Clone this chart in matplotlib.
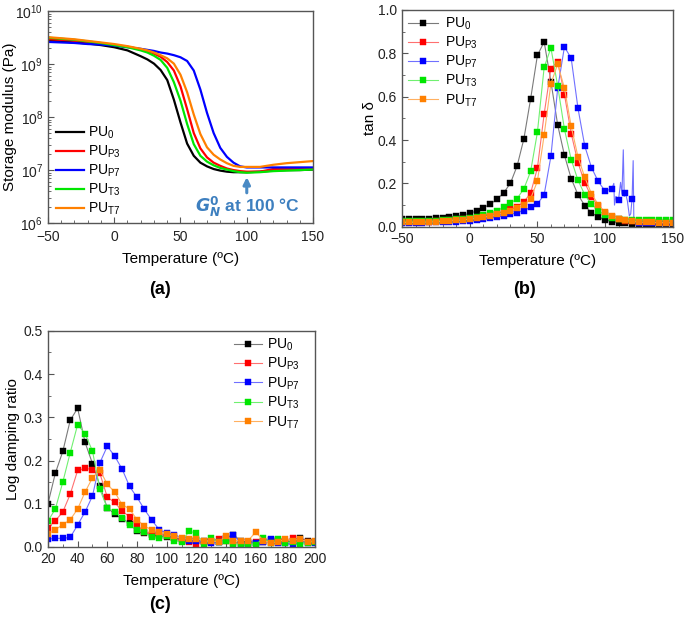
import numpy as np
import matplotlib
matplotlib.use('Agg')
import matplotlib.pyplot as plt
from matplotlib.ticker import MultipleLocator, FormatStrFormatter
from matplotlib.lines import Line2D

plt.rcParams['font.family'] = ['Liberation Sans', 'DejaVu Sans']
plt.rcParams['mathtext.default'] = 'regular'

names = ['PU$_0$', 'PU$_{P3}$', 'PU$_{P7}$', 'PU$_{T3}$', 'PU$_{T7}$']
colors = ['#000000', '#ff0000', '#0000ff', '#00e600', '#ff8000']
light = ['#7a7a7a', '#ff7070', '#7070ff', '#70f070', '#ffb060']

# (a) storage modulus, log10(Pa)
T_a = [-50, -40, -30, -20, -10, 0, 10, 20, 25, 30, 35, 40, 45, 50, 55, 60, 65, 70,
       75, 80, 85, 90, 95, 100, 110, 120, 130, 140, 150]
logE_PU0 = [9.44, 9.43, 9.41, 9.39, 9.36, 9.32, 9.26, 9.15, 9.09, 9.01, 8.89, 8.70, 8.33,
            7.90, 7.50, 7.27, 7.14, 7.07, 7.02, 6.99, 6.97, 6.96, 6.96, 6.96, 6.97, 6.99,
            7.00, 7.00, 7.01]
logE_P3 = [9.47, 9.46, 9.44, 9.42, 9.39, 9.36, 9.33, 9.28, 9.25, 9.20, 9.14, 9.04, 8.88,
           8.58, 8.15, 7.70, 7.41, 7.24, 7.14, 7.08, 7.03, 7.00, 6.98, 6.97, 6.97, 7.02,
           7.02, 7.02, 7.02]
logE_P7 = [9.42, 9.41, 9.40, 9.38, 9.37, 9.35, 9.32, 9.29, 9.27, 9.25, 9.22, 9.20, 9.17,
           9.13, 9.06, 8.88, 8.52, 8.08, 7.70, 7.42, 7.25, 7.14, 7.07, 7.05, 7.05, 7.05,
           7.05, 7.05, 7.05]
logE_T3 = [9.50, 9.48, 9.46, 9.43, 9.40, 9.36, 9.32, 9.26, 9.22, 9.16, 9.08, 8.93, 8.66,
           8.31, 7.87, 7.49, 7.27, 7.16, 7.09, 7.04, 7.01, 6.98, 6.96, 6.95, 6.96, 6.98,
           6.99, 7.00, 7.01]
logE_T7 = [9.51, 9.49, 9.47, 9.44, 9.41, 9.38, 9.34, 9.29, 9.26, 9.22, 9.17, 9.11, 9.01,
           8.80, 8.47, 8.05, 7.68, 7.43, 7.29, 7.20, 7.13, 7.08, 7.06, 7.06, 7.06, 7.10,
           7.13, 7.15, 7.17]

# (b) tan delta
T_b = list(range(-50, 151, 5))
tan_PU0 = [0.035, 0.035, 0.035, 0.036, 0.037, 0.039, 0.041, 0.044, 0.048, 0.054, 0.062,
           0.073, 0.087, 0.104, 0.126, 0.156, 0.200, 0.280, 0.405, 0.590, 0.790, 0.853,
           0.670, 0.470, 0.330, 0.222, 0.148, 0.098, 0.065, 0.045, 0.032, 0.024, 0.019,
           0.016, 0.014, 0.012, 0.011, 0.011, 0.010, 0.010, 0.010]
tan_P3 = [0.022, 0.022, 0.022, 0.023, 0.024, 0.025, 0.027, 0.029, 0.031, 0.034, 0.037,
          0.041, 0.046, 0.052, 0.060, 0.070, 0.080, 0.092, 0.115, 0.155, 0.270, 0.520,
          0.730, 0.762, 0.610, 0.430, 0.296, 0.203, 0.138, 0.095, 0.065, 0.045, 0.034,
          0.028, 0.025, 0.023, 0.022, 0.021, 0.021, 0.020, 0.020]
tan_P7 = [0.018, 0.018, 0.019, 0.019, 0.020, 0.021, 0.022, 0.023, 0.024, 0.026, 0.028,
          0.031, 0.035, 0.040, 0.045, 0.050, 0.057, 0.065, 0.075, 0.090, 0.105, 0.148,
          0.325, 0.638, 0.830, 0.777, 0.547, 0.373, 0.273, 0.209, 0.165, 0.175, 0.125,
          0.158, 0.130, 0.018, 0.018, 0.018, 0.018, 0.018, 0.018]
tan_T3 = [0.025, 0.025, 0.025, 0.026, 0.027, 0.028, 0.030, 0.032, 0.035, 0.038, 0.042,
          0.047, 0.054, 0.062, 0.074, 0.090, 0.108, 0.130, 0.175, 0.255, 0.435, 0.735,
          0.825, 0.650, 0.450, 0.310, 0.215, 0.148, 0.105, 0.075, 0.055, 0.042, 0.036,
          0.033, 0.031, 0.030, 0.030, 0.030, 0.030, 0.030, 0.029]
tan_T7 = [0.020, 0.020, 0.021, 0.021, 0.022, 0.023, 0.025, 0.027, 0.029, 0.032, 0.035,
          0.039, 0.044, 0.050, 0.057, 0.065, 0.075, 0.085, 0.100, 0.130, 0.210, 0.423,
          0.660, 0.750, 0.640, 0.463, 0.323, 0.228, 0.153, 0.102, 0.068, 0.048, 0.036,
          0.029, 0.025, 0.022, 0.020, 0.020, 0.019, 0.019, 0.018]
# noisy part of the PU_P7 trace between the markers
T_P7_spikes = [106.5, 107.0, 108.0, 110.0, 111.5, 112.5, 113.5, 114.2, 115.0, 116.5,
               118.0, 119.0, 120.0, 120.8, 121.3, 122.0]
tan_P7_spikes = [0.200, 0.100, 0.140, 0.125, 0.205, 0.150, 0.355, 0.140, 0.158, 0.120,
                 0.050, 0.060, 0.130, 0.305, 0.030, 0.020]

# (c) log damping ratio
T_c = list(range(20, 201, 5))
ldr_PU0 = [0.100, 0.171, 0.221, 0.293, 0.321, 0.242, 0.193, 0.142, 0.090, 0.077, 0.065,
           0.055, 0.036, 0.032, 0.028, 0.025, 0.022, 0.020, 0.018, 0.016, 0.015, 0.015,
           0.013, 0.012, 0.020, 0.028, 0.014, 0.012, 0.010, 0.012, 0.016, 0.014, 0.012,
           0.013, 0.020, 0.013, 0.012]
ldr_P3 = [0.045, 0.061, 0.081, 0.122, 0.177, 0.182, 0.179, 0.170, 0.115, 0.103, 0.083,
          0.070, 0.050, 0.035, 0.030, 0.030, 0.025, 0.020, 0.015, 0.012, 0.008, 0.012,
          0.012, 0.018, 0.015, 0.010, 0.010, 0.008, 0.012, 0.015, 0.012, 0.013, 0.014,
          0.020, 0.015, 0.012, 0.012]
ldr_P7 = [0.018, 0.020, 0.020, 0.022, 0.051, 0.081, 0.118, 0.195, 0.233, 0.210, 0.180,
          0.140, 0.115, 0.087, 0.062, 0.040, 0.032, 0.028, 0.018, 0.015, 0.014, 0.012,
          0.010, 0.012, 0.018, 0.028, 0.008, 0.010, 0.010, 0.012, 0.018, 0.010, 0.010,
          0.004, 0.012, 0.010, 0.010]
ldr_T3 = [0.060, 0.088, 0.150, 0.218, 0.283, 0.262, 0.222, 0.133, 0.090, 0.082, 0.067,
          0.050, 0.040, 0.034, 0.022, 0.020, 0.025, 0.015, 0.012, 0.036, 0.033, 0.005,
          0.020, 0.012, 0.015, 0.008, 0.006, 0.008, 0.005, 0.020, 0.010, 0.018, 0.010,
          0.012, 0.008, 0.010, 0.012]
ldr_T7 = [0.030, 0.040, 0.052, 0.063, 0.088, 0.127, 0.160, 0.178, 0.145, 0.127, 0.098,
          0.088, 0.063, 0.048, 0.040, 0.035, 0.030, 0.025, 0.020, 0.018, 0.018, 0.015,
          0.014, 0.012, 0.025, 0.015, 0.015, 0.015, 0.035, 0.015, 0.010, 0.012, 0.018,
          0.015, 0.018, 0.012, 0.015]

MS = 4.8

fig = plt.figure(figsize=(6.85, 6.23), dpi=100)
ax_a = fig.add_axes([0.070, 0.642, 0.387, 0.340])
ax_b = fig.add_axes([0.587, 0.636, 0.395, 0.348])
ax_c = fig.add_axes([0.070, 0.122, 0.390, 0.347])


def style(ax):
    for s in ax.spines.values():
        s.set_color('#555555')
        s.set_linewidth(1.0)
    ax.tick_params(which='both', direction='in', labelsize=10, colors='#555555',
                   labelcolor='#222222', top=False, right=False)
    ax.tick_params(which='major', length=4)
    ax.tick_params(which='minor', length=2)
    ax.xaxis.labelpad = 6


# ---- (a)
for v, c, n in zip([logE_PU0, logE_P3, logE_P7, logE_T3, logE_T7], colors, names):
    ax_a.plot(T_a, 10 ** np.array(v), color=c, lw=1.6, label=n)
ax_a.set_yscale('log')
ax_a.set_xlim(-50, 150)
ax_a.set_ylim(1e6, 1e10)
ax_a.xaxis.set_major_locator(MultipleLocator(50))
ax_a.xaxis.set_minor_locator(MultipleLocator(10))
ax_a.set_xlabel('Temperature (ºC)', fontsize=11)
ax_a.set_ylabel('Storage modulus (Pa)', fontsize=11)
style(ax_a)
ax_a.tick_params(axis='x', pad=5)
ax_a.yaxis.set_label_coords(-0.118, 0.5)
ax_a.legend(loc='lower left', frameon=False, fontsize=10, handlelength=2.0,
            handletextpad=0.3, labelspacing=0.2, borderaxespad=0.0,
            bbox_to_anchor=(0.01, 0.0))
ax_a.annotate('', xy=(100, 8.3e6), xytext=(100, 3.3e6),
              arrowprops=dict(arrowstyle='-|>', color='#4a8ac4', lw=2.2,
                              mutation_scale=10))
ax_a.text(61, 2.0e6, r'$\mathbfit{G}_{\mathbfit{N}}^{\mathbf{0}}$ at 100 °C',
          color='#3d7fbf', fontsize=12.5, fontweight='bold', va='center', ha='left')

# ---- (b)
series_b = [tan_PU0, tan_P3, tan_P7, tan_T3, tan_T7]
handles = []
for i, (v, c, lc, n) in enumerate(zip(series_b, colors, light, names)):
    if i == 2:
        T_line = [t for t in T_b if t <= 105] + T_P7_spikes + [t for t in T_b if t >= 125]
        v_line = [y for t, y in zip(T_b, v) if t <= 105] + tan_P7_spikes + \
                 [y for t, y in zip(T_b, v) if t >= 125]
        ax_b.plot(T_line, v_line, color=lc, lw=0.8)
        ax_b.plot(T_b, v, ls='none', marker='s', ms=MS, mew=0.3, color=c)
    else:
        ax_b.plot(T_b, v, color=lc, lw=0.8, marker='s', ms=MS, mew=0.3, mfc=c, mec=c)
    handles.append(Line2D([], [], color=lc, lw=0.8, marker='s', ms=MS, mew=0.3, mfc=c,
                          mec=c, label=n))
ax_b.set_xlim(-50, 150)
ax_b.set_ylim(0, 1.0)
ax_b.xaxis.set_major_locator(MultipleLocator(50))
ax_b.xaxis.set_minor_locator(MultipleLocator(10))
ax_b.yaxis.set_major_locator(MultipleLocator(0.2))
ax_b.yaxis.set_minor_locator(MultipleLocator(0.1))
ax_b.yaxis.set_major_formatter(FormatStrFormatter('%.1f'))
ax_b.set_xlabel('Temperature (ºC)', fontsize=11)
ax_b.set_ylabel('tan δ', fontsize=11)
style(ax_b)
ax_b.yaxis.set_label_coords(-0.092, 0.5)
ax_b.legend(handles=handles, loc='upper left', frameon=False, fontsize=10,
            handlelength=2.2, handletextpad=0.5, labelspacing=0.2, borderaxespad=0.0,
            bbox_to_anchor=(0.0, 1.0))

# ---- (c)
for v, c, lc, n in zip([ldr_PU0, ldr_P3, ldr_P7, ldr_T3, ldr_T7], colors, light, names):
    ax_c.plot(T_c, v, color=lc, lw=0.8, marker='s', ms=MS, mew=0.3, mfc=c, mec=c,
              label=n)
ax_c.set_xlim(20, 200)
ax_c.set_ylim(0, 0.5)
ax_c.xaxis.set_major_locator(MultipleLocator(20))
ax_c.xaxis.set_minor_locator(MultipleLocator(10))
ax_c.yaxis.set_major_locator(MultipleLocator(0.1))
ax_c.yaxis.set_minor_locator(MultipleLocator(0.05))
ax_c.set_xlabel('Temperature (ºC)', fontsize=11)
ax_c.set_ylabel('Log damping ratio', fontsize=11)
style(ax_c)
ax_c.yaxis.set_label_coords(-0.105, 0.5)
ax_c.legend(loc='upper right', frameon=False, fontsize=10, handlelength=2.0,
            handletextpad=0.4, labelspacing=0.22, borderaxespad=0.0,
            bbox_to_anchor=(0.965, 1.0))

fig.text(0.234, 0.535, '(a)', fontsize=13, fontweight='bold', ha='center', va='center')
fig.text(0.766, 0.535, '(b)', fontsize=13, fontweight='bold', ha='center', va='center')
fig.text(0.234, 0.029, '(c)', fontsize=13, fontweight='bold', ha='center', va='center')

fig.savefig('out.png', dpi=100)
